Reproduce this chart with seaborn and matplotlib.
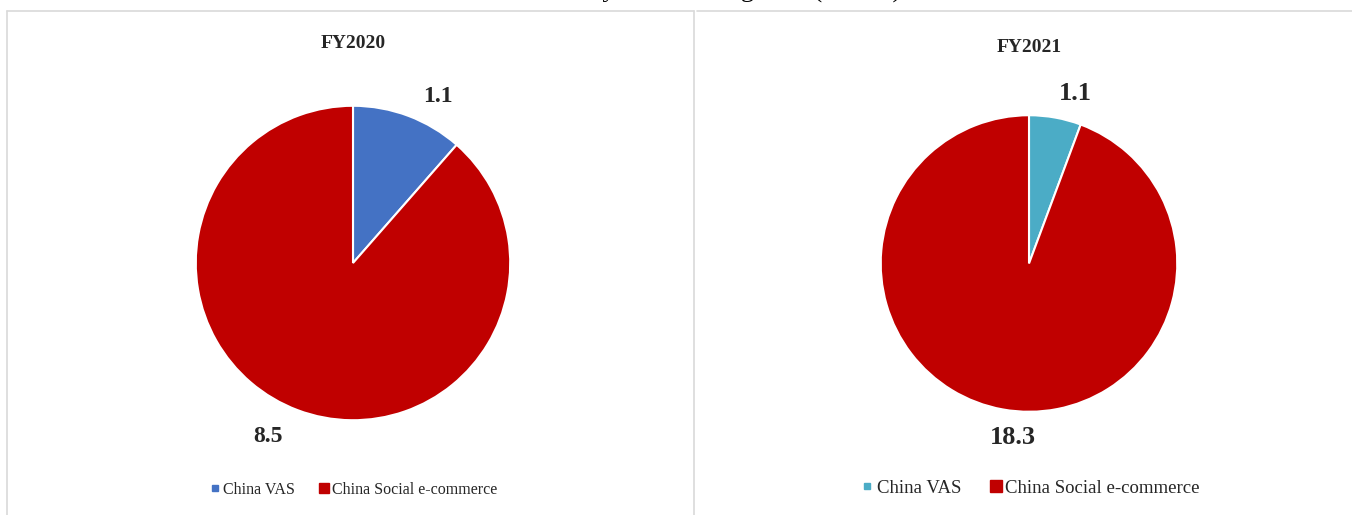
import matplotlib
matplotlib.use("Agg")
import matplotlib.pyplot as plt
from matplotlib.lines import Line2D
import seaborn as sns

# ---- data ----
years = ["FY2020", "FY2021"]
segments = ["China VAS", "China Social e-commerce"]
vas_values = [1.1, 1.1]
social_values = [8.5, 18.3]
title_text = "Revenue by business segment (US$M)"

sns.set_theme(style="white")
plt.rcParams['font.family'] = ['Liberation Serif', 'DejaVu Serif']

W, H, DPI = 1352, 515, 100
fig = plt.figure(figsize=(W / DPI, H / DPI), dpi=DPI)
fig.patch.set_facecolor("white")

def fx(x):
    return x / W

def fy(y):
    return 1 - y / H

# cropped page title (only descenders visible, as in the reference screenshot)
fig.text(fx(696), fy(-3), title_text, ha="center", va="baseline",
         fontsize=19, color="black")

# panel frames
border = "#D9D9D9"
for (x0, y0, x1, y1) in [(7, 11, 694, 11), (7, 11, 7, 515), (694, 11, 694, 515),
                         (697, 11, 1352, 11)]:
    fig.add_artist(Line2D([fx(x0), fx(x1)], [fy(y0), fy(y1)], color=border,
                          lw=1.2, transform=fig.transFigure))

panels = [
    dict(cx=353, cy=263, r=158, colors=["#4472C4", "#C00000"],
         title_xy=(353, 43), title_fs=14,
         lab_xy=[(438, 96), (268, 437)], lab_fs=17,
         leg_xy=(354, 490), leg_fs=11.5, leg_ms=(4, 7), colsp=1.6),
    dict(cx=1029, cy=263.5, r=149, colors=["#4BACC6", "#C00000"],
         title_xy=(1029, 47), title_fs=14,
         lab_xy=[(1075, 93), (1013, 438)], lab_fs=19,
         leg_xy=(1031, 488), leg_fs=13.5, leg_ms=(4.5, 8), colsp=1.6),
]

for i, p in enumerate(panels):
    vals = [vas_values[i], social_values[i]]
    cx, cy, r = p["cx"], p["cy"], p["r"]
    ax = fig.add_axes([fx(cx - r), fy(cy + r), 2 * r / W, 2 * r / H])
    wedges, _ = ax.pie(vals, colors=p["colors"], startangle=90, counterclock=False,
                       radius=1, wedgeprops=dict(edgecolor="white", linewidth=1.5))
    ax.set_xlim(-1.005, 1.005)
    ax.set_ylim(-1.005, 1.005)
    ax.set_aspect("equal")
    ax.axis("off")

    fig.text(fx(p["title_xy"][0]), fy(p["title_xy"][1]), years[i], ha="center",
             va="center", fontsize=p["title_fs"], fontweight="bold")
    for (lx, ly), v in zip(p["lab_xy"], vals):
        fig.text(fx(lx), fy(ly), f"{v:.1f}", ha="center", va="center",
                 fontsize=p["lab_fs"], fontweight="bold")

    handles = [Line2D([], [], marker="s", linestyle="none", color=c, markersize=ms)
               for c, ms in zip(p["colors"], p["leg_ms"])]
    fig.legend(handles, segments, loc="center",
               bbox_to_anchor=(fx(p["leg_xy"][0]), fy(p["leg_xy"][1])),
               ncol=2, frameon=False, fontsize=p["leg_fs"], handlelength=0.5,
               handletextpad=0.25, columnspacing=p["colsp"], borderpad=0)

fig.savefig("out.png", dpi=DPI, facecolor="white")
